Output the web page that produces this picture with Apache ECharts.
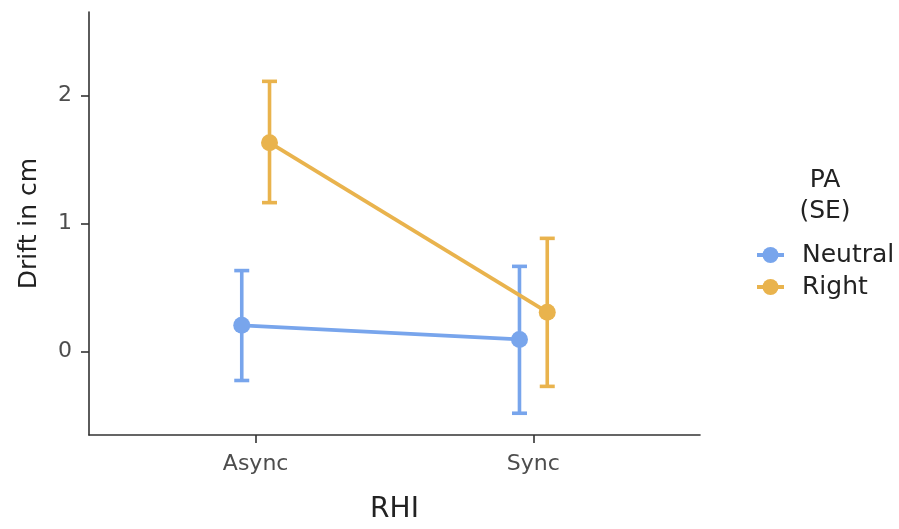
<!DOCTYPE html>
<html>
<head>
<meta charset="utf-8">
<title>Drift in cm by RHI and PA</title>
<script src="https://cdn.jsdelivr.net/npm/echarts@6/dist/echarts.min.js"></script>
<style>
  html, body { margin: 0; padding: 0; background: #ffffff; overflow: hidden; }
  #chart { width: 899px; height: 529px; }
</style>
</head>
<body>
<div id="chart"></div>
<script>
// RHI conditions on the x axis, PA groups as series
const categories = ['Async', 'Sync'];
const groups = ['Neutral', 'Right'];

// group means with lower / upper SE limits, one entry per RHI condition
const neutralMean = [0.205, 0.095];
const neutralLow = [-0.226, -0.482];
const neutralHigh = [0.633, 0.666];

const rightMean = [1.633, 0.308];
const rightLow = [1.164, -0.272];
const rightHigh = [2.112, 0.885];

const yTicks = [0, 1, 2];

const colors = { Neutral: '#78A5EC', Right: '#E9B34D' };
const dodge = { Neutral: -0.05, Right: 0.05 };
const textFont = 'DejaVu Sans';
const axisColor = '#333333';

const stats = {
  Neutral: { mean: neutralMean, low: neutralLow, high: neutralHigh },
  Right: { mean: rightMean, low: rightLow, high: rightHigh }
};

// x position of a group within a category (1-based category index plus dodge)
function xPos(group, i) { return i + 1 + dodge[group]; }

const errorSeries = groups.map(function (g) {
  return {
    name: g + ' SE',
    type: 'custom',
    z: 2,
    silent: true,
    data: categories.map(function (c, i) {
      return [xPos(g, i), stats[g].low[i], stats[g].high[i]];
    }),
    renderItem: function (params, api) {
      const lo = api.coord([api.value(0), api.value(1)]);
      const hi = api.coord([api.value(0), api.value(2)]);
      const half = 7.5;
      const style = { stroke: colors[g], lineWidth: 3.6, fill: null };
      return {
        type: 'group',
        children: [
          { type: 'line', shape: { x1: lo[0], y1: lo[1], x2: hi[0], y2: hi[1] }, style: style },
          { type: 'line', shape: { x1: hi[0] - half, y1: hi[1], x2: hi[0] + half, y2: hi[1] }, style: style },
          { type: 'line', shape: { x1: lo[0] - half, y1: lo[1], x2: lo[0] + half, y2: lo[1] }, style: style }
        ]
      };
    }
  };
});

const meanSeries = groups.map(function (g) {
  return {
    name: g,
    type: 'line',
    z: 3,
    symbol: 'circle',
    symbolSize: 17,
    showSymbol: true,
    color: colors[g],
    itemStyle: { color: colors[g] },
    lineStyle: { color: colors[g], width: 3.8 },
    data: categories.map(function (c, i) { return [xPos(g, i), stats[g].mean[i]]; })
  };
});

const chart = echarts.init(document.getElementById('chart'), null, { renderer: 'canvas' });

chart.setOption({
  backgroundColor: '#ffffff',
  animation: false,
  textStyle: { fontFamily: textFont },
  grid: { left: 89, right: 199, top: 12, bottom: 87, containLabel: false },
  title: {
    text: 'PA\n(SE)',
    left: 820,
    top: 160,
    textAlign: 'center',
    textStyle: { fontFamily: textFont, fontSize: 25, fontWeight: 'normal', color: '#222222', lineHeight: 31 }
  },
  legend: {
    data: groups,
    orient: 'vertical',
    left: 750,
    top: 236,
    itemWidth: 27,
    itemHeight: 20,
    itemGap: 4,
    selectedMode: false,
    lineStyle: { width: 4 },
    textStyle: { fontFamily: textFont, fontSize: 25, color: '#222222', lineHeight: 28, padding: [0, 0, 0, 13] }
  },
  xAxis: {
    type: 'value',
    min: 0.4,
    max: 2.6,
    name: 'RHI',
    nameLocation: 'middle',
    nameGap: 61,
    nameTextStyle: { fontFamily: textFont, fontSize: 28, color: '#222222' },
    axisLine: { show: true, onZero: false, lineStyle: { color: axisColor, width: 1.6 } },
    axisTick: { show: true, length: 8, customValues: [1, 2], lineStyle: { color: axisColor, width: 1.6 } },
    axisLabel: {
      customValues: [1, 2],
      margin: 18,
      fontFamily: textFont,
      fontSize: 22,
      color: '#4d4d4d',
      formatter: function (v) { return categories[Math.round(v) - 1] || ''; }
    },
    splitLine: { show: false }
  },
  yAxis: {
    type: 'value',
    min: -0.652,
    max: 2.654,
    name: 'Drift in cm',
    nameLocation: 'middle',
    nameGap: 47,
    nameTextStyle: { fontFamily: textFont, fontSize: 25, color: '#222222' },
    axisLine: { show: true, onZero: false, lineStyle: { color: axisColor, width: 1.6 } },
    axisTick: { show: true, length: 8, customValues: yTicks, lineStyle: { color: axisColor, width: 1.6 } },
    axisLabel: {
      customValues: yTicks,
      margin: 17,
      fontFamily: textFont,
      fontSize: 22,
      color: '#4d4d4d'
    },
    splitLine: { show: false }
  },
  series: errorSeries.concat(meanSeries)
});
</script>
</body>
</html>
